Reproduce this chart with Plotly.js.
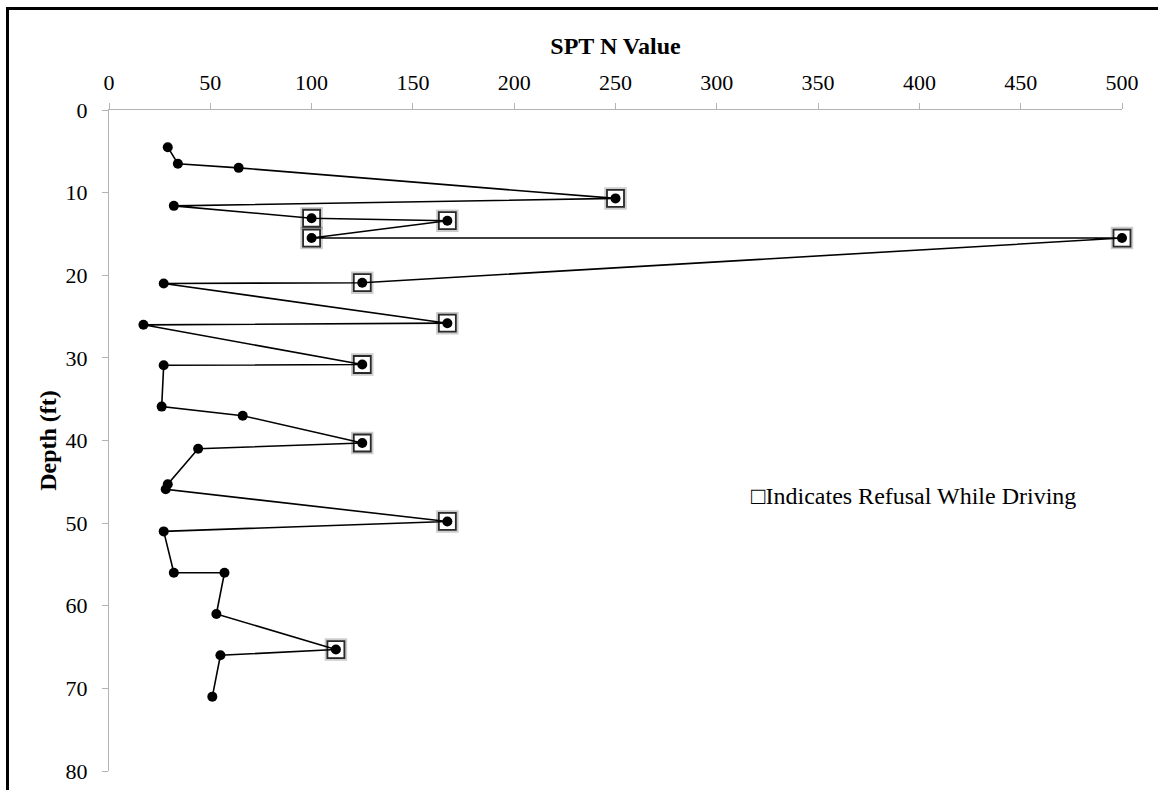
<!DOCTYPE html>
<html>
<head>
<meta charset="utf-8">
<script src="https://cdn.plot.ly/plotly-3.0.1.min.js"></script>
<style>
html,body{margin:0;padding:0;background:#fff;}
#wrap{position:relative;width:1158px;height:790px;overflow:hidden;}
#frame{position:absolute;left:6px;top:7px;width:1200px;height:900px;border-left:3px solid #000;border-top:3px solid #000;pointer-events:none;z-index:5;}
#chart{position:absolute;left:0;top:0;width:1158px;height:790px;}
</style>
</head>
<body>
<div id="wrap">
<div id="chart"></div>
<div id="frame"></div>
</div>
<script>
// Depth (ft) of each SPT sample
const depthFt = [4.5, 6.5, 7.0, 10.7, 11.6, 13.1, 13.4, 15.5, 15.5, 20.9, 21.0, 25.8, 26.0, 30.8, 30.9, 35.9, 37.0, 40.3, 41.0, 45.3, 45.9, 49.8, 51.0, 56.0, 56.0, 61.0, 65.3, 66.0, 71.0];
// SPT N value of each sample
const sptN = [29, 34, 64, 250, 32, 100, 167, 100, 500, 125, 27, 167, 17, 125, 27, 26, 66, 125, 44, 29, 28, 167, 27, 32, 57, 53, 112, 55, 51];
// Refusal while driving (1 = yes)
const refusal = [0, 0, 0, 1, 0, 1, 1, 1, 1, 1, 0, 1, 0, 1, 0, 0, 0, 1, 0, 0, 0, 1, 0, 0, 0, 0, 1, 0, 0];
// Axis ticks
const xTicks = [0, 50, 100, 150, 200, 250, 300, 350, 400, 450, 500];
const yTicks = [0, 10, 20, 30, 40, 50, 60, 70, 80];

const refX = sptN.filter((v, i) => refusal[i] === 1);
const refY = depthFt.filter((v, i) => refusal[i] === 1);

const serif = '"Liberation Serif", "Times New Roman", serif';

const traces = [
  {
    x: refX, y: refY, type: 'scatter', mode: 'markers', hoverinfo: 'skip', cliponaxis: false,
    marker: {symbol: 'square-open', size: 19, color: 'rgba(0,0,0,0.2)', line: {width: 3.5, color: 'rgba(0,0,0,0.2)'}}
  },
  {
    x: refX, y: refY, type: 'scatter', mode: 'markers', cliponaxis: false,
    marker: {symbol: 'square-open', size: 17, color: '#2a2a2a', line: {width: 1.8, color: '#2a2a2a'}}
  },
  {
    x: sptN, y: depthFt, type: 'scatter', mode: 'lines+markers', cliponaxis: false,
    line: {color: '#000', width: 1.6},
    marker: {symbol: 'circle', size: 10, color: '#000'}
  }
];

const layout = {
  width: 1158, height: 790,
  margin: {l: 109, r: 36, t: 110, b: 19},
  paper_bgcolor: '#fff', plot_bgcolor: '#fff',
  showlegend: false,
  font: {family: serif, color: '#000', size: 22},
  xaxis: {
    side: 'top', range: [0, 500], tickvals: xTicks, ticktext: xTicks.map(String),
    showgrid: false, zeroline: false, showline: true, linecolor: '#b3b3b3', linewidth: 1,
    ticks: 'outside', ticklen: 6, tickcolor: '#b3b3b3', tickwidth: 1,
    tickfont: {family: serif, size: 22, color: '#000'},
    ticklabelstandoff: 4,
    title: {text: '<b>SPT N Value</b>', font: {family: serif, size: 24, color: '#000'}, standoff: 8},
    fixedrange: true
  },
  yaxis: {
    range: [80, 0], tickvals: yTicks, ticktext: yTicks.map(String),
    showgrid: false, zeroline: false, showline: true, linecolor: '#b3b3b3', linewidth: 1,
    ticks: 'outside', ticklen: 6, tickcolor: '#b3b3b3', tickwidth: 1,
    tickfont: {family: serif, size: 22, color: '#000'},
    ticklabelstandoff: 10,
    title: {text: '<b>Depth (ft)</b>', font: {family: serif, size: 24, color: '#000'}, standoff: 2},
    fixedrange: true
  },
  annotations: [{
    xref: 'x', yref: 'y', x: 316, y: 46.7, xanchor: 'left', yanchor: 'middle',
    text: '\u25A1Indicates Refusal While Driving', showarrow: false,
    font: {family: serif, size: 24, color: '#000'}
  }]
};

Plotly.newPlot('chart', traces, layout, {displayModeBar: false, staticPlot: true});
</script>
</body>
</html>
